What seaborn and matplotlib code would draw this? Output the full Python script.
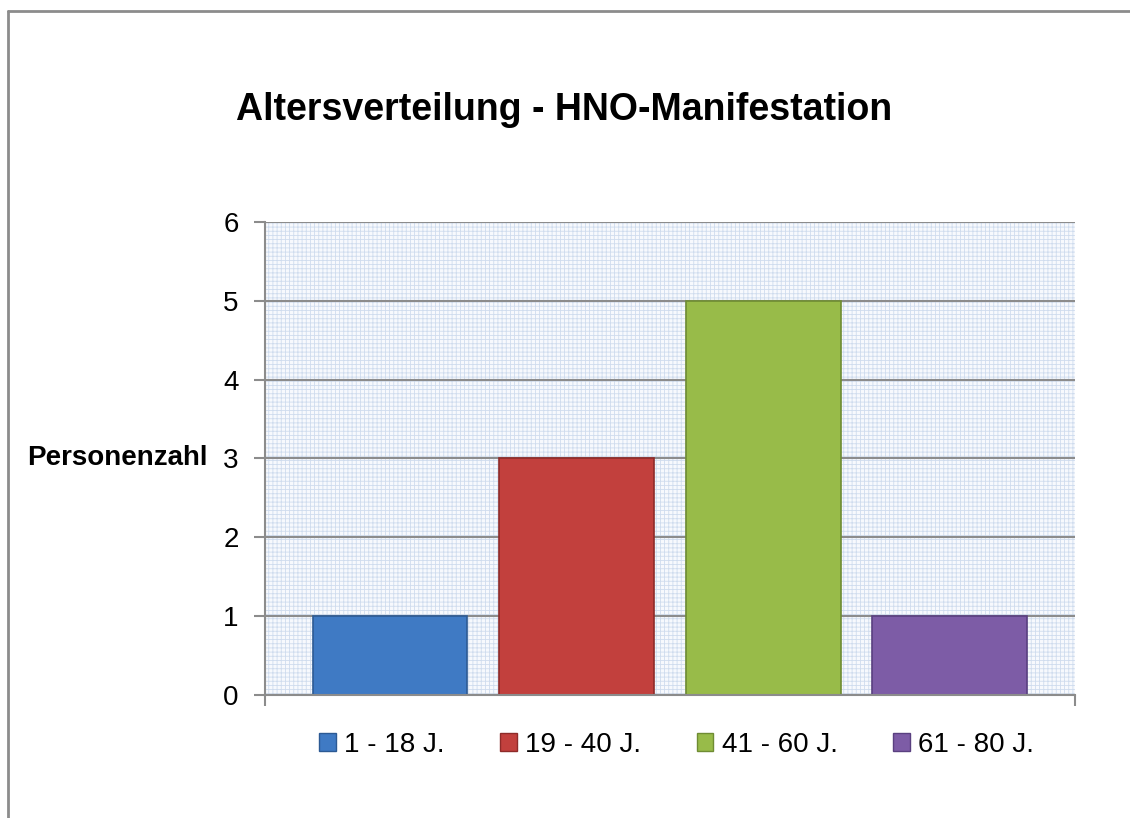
import matplotlib
matplotlib.use("Agg")
import matplotlib.pyplot as plt
from matplotlib.lines import Line2D
from matplotlib.patches import Rectangle, Patch
import seaborn as sns
import pandas as pd

# Data
age_groups = ["1 - 18 J.", "19 - 40 J.", "41 - 60 J.", "61 - 80 J."]
persons = [1, 3, 5, 1]
bar_colors = ["#3f7ac4", "#c2403d", "#98bb49", "#7d5ca6"]
edge_colors = ["#2c5a94", "#8e2b29", "#6f8c33", "#5a4080"]

df = pd.DataFrame({"Altersgruppe": age_groups, "Personenzahl": persons})

sns.set_style("white")
plt.rcParams["font.family"] = ["Liberation Sans", "DejaVu Sans"]
plt.rcParams["text.color"] = "black"
plt.rcParams["xtick.labelcolor"] = "black"
plt.rcParams["ytick.labelcolor"] = "black"
plt.rcParams["axes.labelcolor"] = "black"
plt.rcParams["hatch.linewidth"] = 0.6

fig = plt.figure(figsize=(11.3, 8.18), dpi=100)
ax = fig.add_axes([0.2345, 0.1504, 0.7168, 0.5782])

# dotted Excel-like plot area background
ax.add_patch(Rectangle((0, 0), 1, 1, transform=ax.transAxes, facecolor="#f7f9fd",
                       edgecolor="#cfdcee", hatch="++++", linewidth=0, zorder=0))

sns.barplot(data=df, x="Altersgruppe", y="Personenzahl", hue="Altersgruppe",
            palette=bar_colors, saturation=1, width=0.83, legend=False, ax=ax, zorder=2)
for bar, ec in zip(ax.patches[1:], edge_colors):
    bar.set_edgecolor(ec)
    bar.set_linewidth(1.2)

ax.set_ylim(0, 6)
ax.set_xlim(-0.67, 3.67)
ax.set_yticks(range(0, 7))
ax.yaxis.grid(True, color="#8c8c8c", linewidth=1.5, zorder=1)
ax.set_axisbelow(True)
ax.set_xticks([-0.67, 3.67])
ax.set_xticklabels(["", ""])
ax.tick_params(axis="both", direction="out", length=8, width=1.5, color="#8c8c8c",
               labelsize=20, pad=11)
ax.tick_params(axis="x", bottom=True)
ax.tick_params(axis="y", left=True)

for side in ["top", "right"]:
    ax.spines[side].set_visible(False)
for side in ["left", "bottom"]:
    ax.spines[side].set_color("#8c8c8c")
    ax.spines[side].set_linewidth(1.5)

ax.set_xlabel("")
ax.set_ylabel("Personenzahl", rotation=0, fontsize=20, fontweight="bold",
              ha="right", va="center", color="black")
ax.yaxis.set_label_coords(-0.071, 0.5)

fig.text(0.499, 0.866, "Altersverteilung - HNO-Manifestation", ha="center",
         va="center", fontsize=27, fontweight="bold", color="black")

handles = [Patch(facecolor=c, edgecolor=e, linewidth=1) for c, e in zip(bar_colors, edge_colors)]
ax.legend(handles, age_groups, loc="center", bbox_to_anchor=(0.508, -0.105), ncol=4,
          frameon=False, fontsize=20, handlelength=0.6, handleheight=0.6,
          handletextpad=0.3, columnspacing=2.0, labelcolor="black")

# outer chart border (only top and left fall inside the picture)
fig.add_artist(Line2D([0.007, 1.0], [0.9866, 0.9866], color="#8c8c8c", linewidth=2))
fig.add_artist(Line2D([0.0075, 0.0075], [0.0, 0.9866], color="#8c8c8c", linewidth=2))

fig.savefig("out.png", dpi=100)
